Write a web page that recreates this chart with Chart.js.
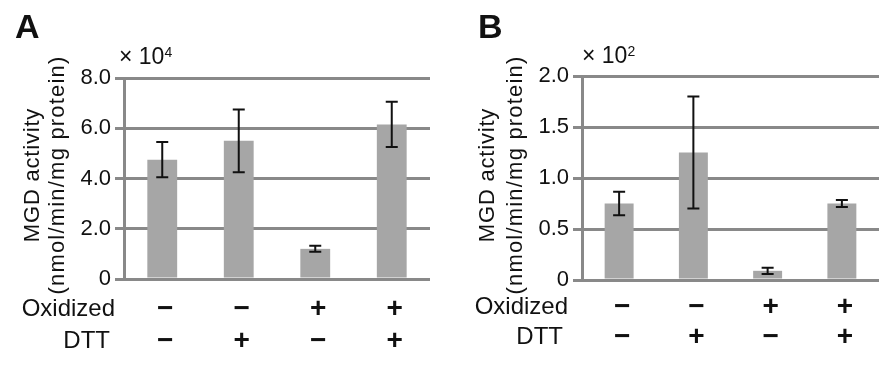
<!DOCTYPE html>
<html>
<head>
<meta charset="utf-8">
<script src="https://cdn.jsdelivr.net/npm/chart.js@4"></script>
<style>
  body { margin: 0; background: #fff; }
  .panel { position: absolute; top: 0; width: 446px; height: 365px; }
</style>
</head>
<body>
<div class="panel" style="left:0"><canvas id="chartA" width="446" height="365"></canvas></div>
<div class="panel" style="left:446px"><canvas id="chartB" width="446" height="365"></canvas></div>
<script>
const categories = ['1', '2', '3', '4'];
const oxidized = ['\u2212', '\u2212', '+', '+'];
const dtt = ['\u2212', '+', '\u2212', '+'];

const meansA = [4.75, 5.5, 1.2, 6.15];
const errorsA = [0.7, 1.25, 0.12, 0.9];
const ticksA = [0, 2, 4, 6, 8];

const meansB = [0.75, 1.25, 0.09, 0.75];
const errorsB = [0.115, 0.55, 0.03, 0.035];
const ticksB = [0, 0.5, 1, 1.5, 2];

const FONT = '"Liberation Sans", Arial, sans-serif';
const GRID = '#898989';
const BAR = '#a6a6a6';

function makeChart(id, means, errors, tickVals, cfg) {
    const errorBars = {
        id: 'errorBars',
        afterDatasetsDraw(chart) {
            const ctx = chart.ctx;
            const y = chart.scales.y;
            const meta = chart.getDatasetMeta(0);
            ctx.save();
            ctx.strokeStyle = '#111';
            ctx.lineWidth = 2;
            meta.data.forEach(function(bar, i) {
                const top = y.getPixelForValue(means[i] + errors[i]);
                const bot = y.getPixelForValue(means[i] - errors[i]);
                ctx.beginPath();
                ctx.moveTo(bar.x, top); ctx.lineTo(bar.x, bot);
                ctx.moveTo(bar.x - 6, top); ctx.lineTo(bar.x + 6, top);
                ctx.moveTo(bar.x - 6, bot); ctx.lineTo(bar.x + 6, bot);
                ctx.stroke();
            });
            ctx.restore();
        }
    };

    const labels = {
        id: 'labels',
        afterDraw(chart) {
            const ctx = chart.ctx;
            const x = chart.scales.x;
            ctx.save();
            ctx.fillStyle = '#111';

            // panel letter
            ctx.font = 'bold 34px ' + FONT;
            ctx.textAlign = 'left';
            ctx.textBaseline = 'middle';
            ctx.fillText(cfg.letter, cfg.letterX, 29);

            // multiplier
            ctx.textBaseline = 'alphabetic';
            ctx.font = '23px ' + FONT;
            ctx.fillText('\u00d7 10', cfg.expX, cfg.expY);
            const w = ctx.measureText('\u00d7 10').width;
            ctx.font = '14px ' + FONT;
            ctx.fillText(cfg.exp, cfg.expX + w, cfg.expY - 7);

            // y title
            ctx.font = '22px ' + FONT;
            ctx.textAlign = 'center';
            ctx.textBaseline = 'middle';
            [['MGD activity', cfg.title1X, '0.8px'], ['(nmol/min/mg protein)', cfg.title2X, '1.2px']].forEach(function(t) {
                ctx.save();
                ctx.letterSpacing = t[2];
                ctx.translate(t[1], 175);
                ctx.rotate(-Math.PI / 2);
                ctx.fillText(t[0], 0, 0);
                ctx.restore();
            });

            // condition rows
            ctx.font = '24px ' + FONT;
            ctx.textAlign = 'right';
            ctx.fillText('Oxidized', cfg.rowLabelX, cfg.row1Y);
            ctx.fillText('DTT', cfg.rowLabelX - 5, cfg.row2Y);
            ctx.font = 'bold 28px ' + FONT;
            ctx.textAlign = 'center';
            categories.forEach(function(c, i) {
                const px = x.getPixelForValue(i) + 3;
                ctx.fillText(oxidized[i], px, cfg.row1Y);
                ctx.fillText(dtt[i], px, cfg.row2Y);
            });
            ctx.restore();
        }
    };

    return new Chart(document.getElementById(id), {
        type: 'bar',
        data: {
            labels: categories,
            datasets: [{
                data: means,
                backgroundColor: BAR,
                barPercentage: 0.39,
                categoryPercentage: 1
            }]
        },
        options: {
            responsive: false,
            animation: false,
            layout: { padding: cfg.padding },
            plugins: { legend: { display: false }, tooltip: { enabled: false } },
            scales: {
                x: { display: false },
                y: {
                    min: tickVals[0],
                    max: tickVals[tickVals.length - 1],
                    afterBuildTicks: function(scale) {
                        scale.ticks = tickVals.map(function(v) { return { value: v }; });
                    },
                    afterFit: function(scale) { scale.width = cfg.axisX; },
                    grid: { color: GRID, lineWidth: 3, tickLength: 9, tickColor: GRID, tickWidth: 3 },
                    border: { color: GRID, width: 3 },
                    ticks: {
                        padding: 4,
                        color: '#111',
                        font: { family: FONT, size: 22 },
                        callback: function(v) { return v === 0 ? '0' : v.toFixed(1); }
                    }
                }
            }
        },
        plugins: [errorBars, labels]
    });
}

makeChart('chartA', meansA, errorsA, ticksA, {
    letter: 'A', letterX: 15, exp: '4', expX: 119, expY: 64,
    title1X: 33, title2X: 58,
    rowLabelX: 115, row1Y: 309, row2Y: 341,
    axisX: 124, padding: { left: 0, top: 78, right: 16, bottom: 86 }
});

makeChart('chartB', meansB, errorsB, ticksB, {
    letter: 'B', letterX: 32, exp: '2', expX: 136, expY: 63,
    title1X: 42, title2X: 70,
    rowLabelX: 122, row1Y: 307, row2Y: 337,
    axisX: 136, padding: { left: 0, top: 76, right: 13, bottom: 85 }
});
</script>
</body>
</html>
